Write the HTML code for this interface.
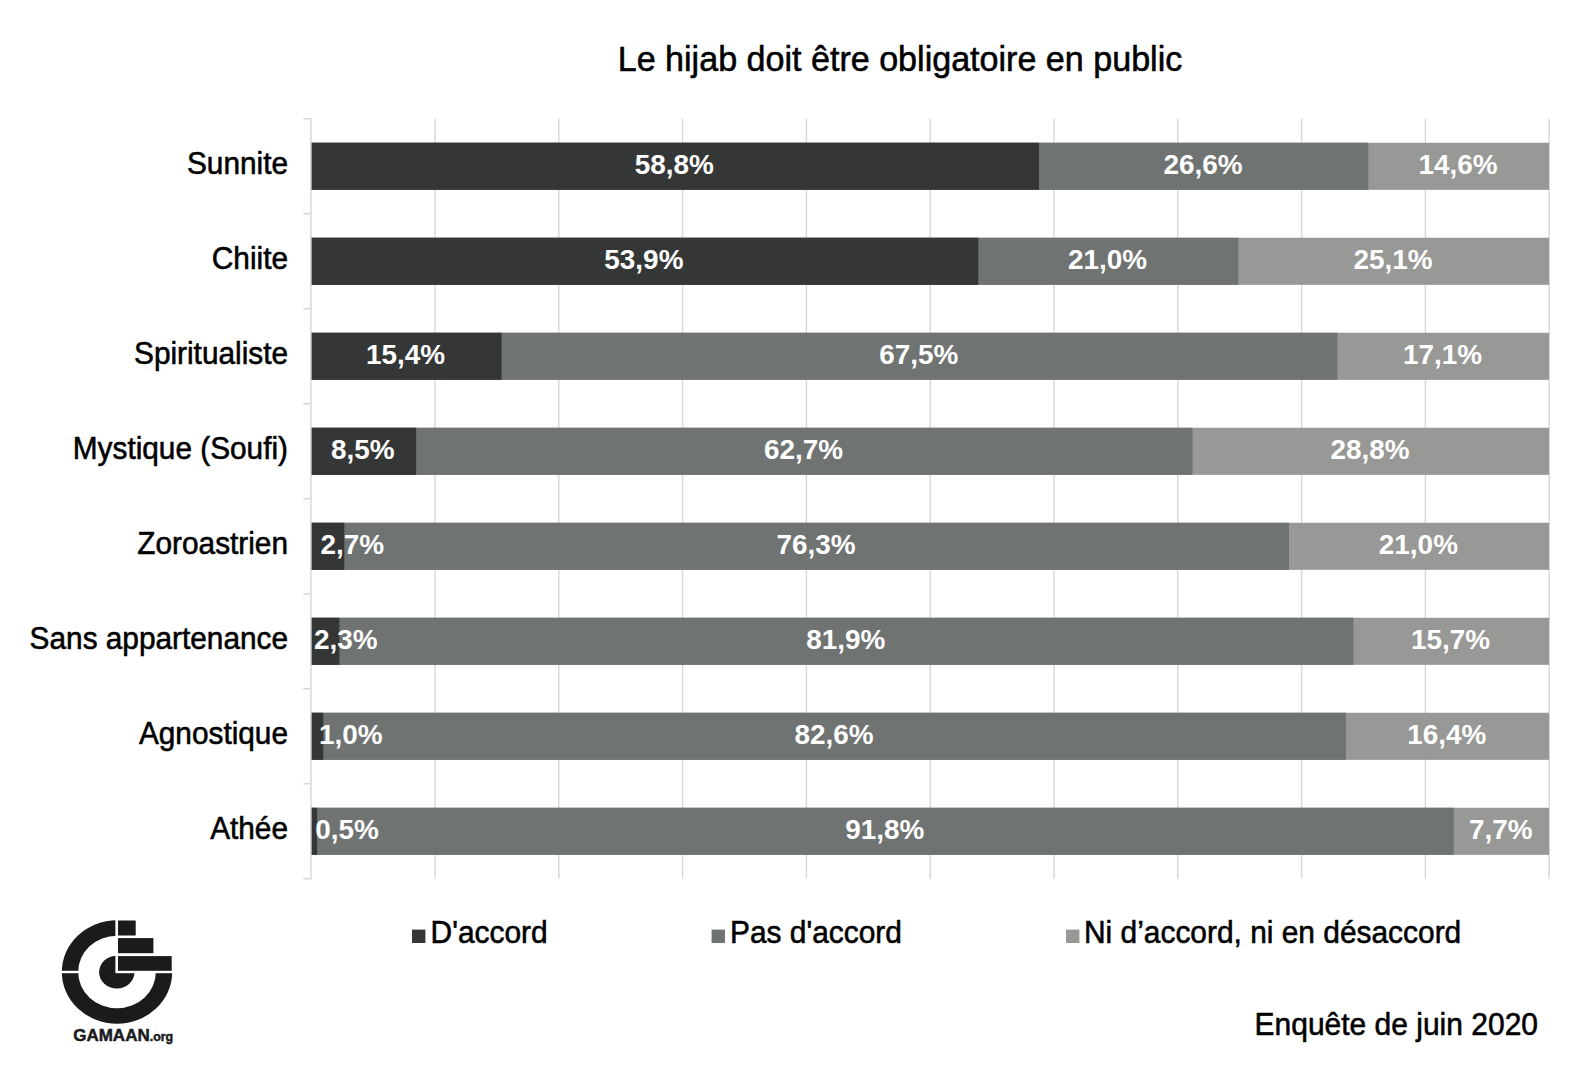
<!DOCTYPE html>
<html lang="fr"><head><meta charset="utf-8"><title>Le hijab doit être obligatoire en public</title>
<style>html,body{margin:0;padding:0;background:#fff}body{width:1594px;height:1070px;overflow:hidden}svg{display:block}text{font-family:"Liberation Sans", sans-serif}.cat,.ttl,.leg,.foot{stroke:#000;stroke-width:0.55px;stroke-linejoin:round}.cat{font-size:29.8px;fill:#000;text-anchor:end}.lab{font-size:27.9px;font-weight:bold;fill:#fff;text-anchor:middle}.ttl{font-size:34.1px;fill:#000;text-anchor:middle}.leg{font-size:29.9px;fill:#000}.foot{font-size:30.0px;fill:#000;text-anchor:end}</style></head><body>
<svg width="1594" height="1070" viewBox="0 0 1594 1070">
<rect width="1594" height="1070" fill="#ffffff"/>
<g stroke="#d9d8d3" stroke-width="1.4" fill="none">
<line x1="435.00" y1="118.70" x2="435.00" y2="878.80"/>
<line x1="558.80" y1="118.70" x2="558.80" y2="878.80"/>
<line x1="682.60" y1="118.70" x2="682.60" y2="878.80"/>
<line x1="806.40" y1="118.70" x2="806.40" y2="878.80"/>
<line x1="930.20" y1="118.70" x2="930.20" y2="878.80"/>
<line x1="1054.00" y1="118.70" x2="1054.00" y2="878.80"/>
<line x1="1177.80" y1="118.70" x2="1177.80" y2="878.80"/>
<line x1="1301.60" y1="118.70" x2="1301.60" y2="878.80"/>
<line x1="1425.40" y1="118.70" x2="1425.40" y2="878.80"/>
<line x1="1549.20" y1="118.70" x2="1549.20" y2="878.80"/>
</g>
<text class="ttl" transform="translate(900.00 70.80) scale(1 1.040)">Le hijab doit être obligatoire en public</text>
<rect x="310.90" y="142.75" width="1238.20" height="47.10" fill="#989896"/>
<rect x="310.90" y="142.75" width="1057.42" height="47.10" fill="#6f7372"/>
<rect x="310.90" y="142.75" width="728.06" height="47.10" fill="#353737"/>
<text class="lab" transform="translate(674.23 174.15) scale(1 1.020)">58,8%</text>
<text class="lab" transform="translate(1202.94 174.15) scale(1 1.020)">26,6%</text>
<text class="lab" transform="translate(1458.01 174.15) scale(1 1.020)">14,6%</text>
<text class="cat" transform="translate(288.00 173.75) scale(1 1.040)">Sunnite</text>
<rect x="310.90" y="237.75" width="1238.20" height="47.10" fill="#989896"/>
<rect x="310.90" y="237.75" width="927.41" height="47.10" fill="#6f7372"/>
<rect x="310.90" y="237.75" width="667.39" height="47.10" fill="#353737"/>
<text class="lab" transform="translate(643.89 269.15) scale(1 1.020)">53,9%</text>
<text class="lab" transform="translate(1107.60 269.15) scale(1 1.020)">21,0%</text>
<text class="lab" transform="translate(1393.01 269.15) scale(1 1.020)">25,1%</text>
<text class="cat" transform="translate(288.00 268.75) scale(1 1.040)">Chiite</text>
<rect x="310.90" y="332.75" width="1238.20" height="47.10" fill="#989896"/>
<rect x="310.90" y="332.75" width="1026.47" height="47.10" fill="#6f7372"/>
<rect x="310.90" y="332.75" width="190.68" height="47.10" fill="#353737"/>
<text class="lab" transform="translate(405.54 364.15) scale(1 1.020)">15,4%</text>
<text class="lab" transform="translate(918.78 364.15) scale(1 1.020)">67,5%</text>
<text class="lab" transform="translate(1442.53 364.15) scale(1 1.020)">17,1%</text>
<text class="cat" transform="translate(288.00 363.75) scale(1 1.040)">Spiritualiste</text>
<rect x="310.90" y="427.75" width="1238.20" height="47.10" fill="#989896"/>
<rect x="310.90" y="427.75" width="881.60" height="47.10" fill="#6f7372"/>
<rect x="310.90" y="427.75" width="105.25" height="47.10" fill="#353737"/>
<text class="lab" transform="translate(362.82 459.15) scale(1 1.020)">8,5%</text>
<text class="lab" transform="translate(803.62 459.15) scale(1 1.020)">62,7%</text>
<text class="lab" transform="translate(1370.10 459.15) scale(1 1.020)">28,8%</text>
<text class="cat" transform="translate(288.00 458.75) scale(1 1.040)">Mystique (Soufi)</text>
<rect x="310.90" y="522.75" width="1238.20" height="47.10" fill="#989896"/>
<rect x="310.90" y="522.75" width="978.18" height="47.10" fill="#6f7372"/>
<rect x="310.90" y="522.75" width="33.43" height="47.10" fill="#353737"/>
<text class="lab" transform="translate(352.20 554.15) scale(1 1.020)">2,7%</text>
<text class="lab" transform="translate(816.00 554.15) scale(1 1.020)">76,3%</text>
<text class="lab" transform="translate(1418.39 554.15) scale(1 1.020)">21,0%</text>
<text class="cat" transform="translate(288.00 553.75) scale(1 1.040)">Zoroastrien</text>
<rect x="310.90" y="617.75" width="1238.20" height="47.10" fill="#989896"/>
<rect x="310.90" y="617.75" width="1042.56" height="47.10" fill="#6f7372"/>
<rect x="310.90" y="617.75" width="28.48" height="47.10" fill="#353737"/>
<text class="lab" transform="translate(345.80 649.15) scale(1 1.020)">2,3%</text>
<text class="lab" transform="translate(845.72 649.15) scale(1 1.020)">81,9%</text>
<text class="lab" transform="translate(1450.58 649.15) scale(1 1.020)">15,7%</text>
<text class="cat" transform="translate(288.00 648.75) scale(1 1.040)">Sans appartenance</text>
<rect x="310.90" y="712.75" width="1238.20" height="47.10" fill="#989896"/>
<rect x="310.90" y="712.75" width="1035.14" height="47.10" fill="#6f7372"/>
<rect x="310.90" y="712.75" width="12.38" height="47.10" fill="#353737"/>
<text class="lab" transform="translate(350.70 744.15) scale(1 1.020)">1,0%</text>
<text class="lab" transform="translate(833.96 744.15) scale(1 1.020)">82,6%</text>
<text class="lab" transform="translate(1446.87 744.15) scale(1 1.020)">16,4%</text>
<text class="cat" transform="translate(288.00 743.75) scale(1 1.040)">Agnostique</text>
<rect x="310.90" y="807.75" width="1238.20" height="47.10" fill="#989896"/>
<rect x="310.90" y="807.75" width="1142.86" height="47.10" fill="#6f7372"/>
<rect x="310.90" y="807.75" width="6.19" height="47.10" fill="#353737"/>
<text class="lab" transform="translate(347.00 839.15) scale(1 1.020)">0,5%</text>
<text class="lab" transform="translate(884.72 839.15) scale(1 1.020)">91,8%</text>
<text class="lab" transform="translate(1500.73 839.15) scale(1 1.020)">7,7%</text>
<text class="cat" transform="translate(288.00 838.75) scale(1 1.040)">Athée</text>
<g stroke="#d9d8d3" stroke-width="1.5" fill="none">
<line x1="310.90" y1="118.00" x2="310.90" y2="879.50"/>
<line x1="303.30" y1="118.70" x2="310.90" y2="118.70"/>
<line x1="303.30" y1="213.71" x2="310.90" y2="213.71"/>
<line x1="303.30" y1="308.72" x2="310.90" y2="308.72"/>
<line x1="303.30" y1="403.74" x2="310.90" y2="403.74"/>
<line x1="303.30" y1="498.75" x2="310.90" y2="498.75"/>
<line x1="303.30" y1="593.76" x2="310.90" y2="593.76"/>
<line x1="303.30" y1="688.77" x2="310.90" y2="688.77"/>
<line x1="303.30" y1="783.79" x2="310.90" y2="783.79"/>
<line x1="303.30" y1="878.80" x2="310.90" y2="878.80"/>
</g>
<rect x="412.00" y="929.6" width="13.4" height="13.4" fill="#353737"/>
<text class="leg" transform="translate(430.60 943.30) scale(1 1.040)">D'accord</text>
<rect x="711.60" y="929.6" width="13.4" height="13.4" fill="#6f7372"/>
<text class="leg" transform="translate(730.00 943.30) scale(1 1.040)">Pas d'accord</text>
<rect x="1066.00" y="929.6" width="13.4" height="13.4" fill="#989896"/>
<text class="leg" transform="translate(1084.00 943.30) scale(1 1.040)">Ni d’accord, ni en désaccord</text>
<text class="foot" transform="translate(1538.00 1035.30) scale(1 1.040)">Enquête de juin 2020</text>
<g id="logo">
<ellipse cx="117" cy="972" rx="55.2" ry="51.7" fill="#1b1b1d"/>
<ellipse cx="117" cy="972" rx="38.8" ry="36.3" fill="#ffffff"/>
<ellipse cx="116.8" cy="972.2" rx="17.7" ry="16.4" fill="#1b1b1d"/>
<rect x="115.4" y="915" width="62" height="58.2" fill="#ffffff"/>
<rect x="58" y="970.8" width="20.6" height="2.4" fill="#ffffff"/>
<rect x="118" y="920.5" width="17.7" height="15" fill="#1b1b1d"/>
<rect x="118" y="938.1" width="35.4" height="15.1" fill="#1b1b1d"/>
<rect x="118" y="956.1" width="53.7" height="14.7" fill="#1b1b1d"/>
<text x="73.2" y="1040.8" style="font-weight:bold;font-size:17px;fill:#1b1b1d;stroke:#1b1b1d;stroke-width:0.5px">GAMAAN<tspan style="font-size:12.4px">.org</tspan></text>
</g>

</svg></body></html>
